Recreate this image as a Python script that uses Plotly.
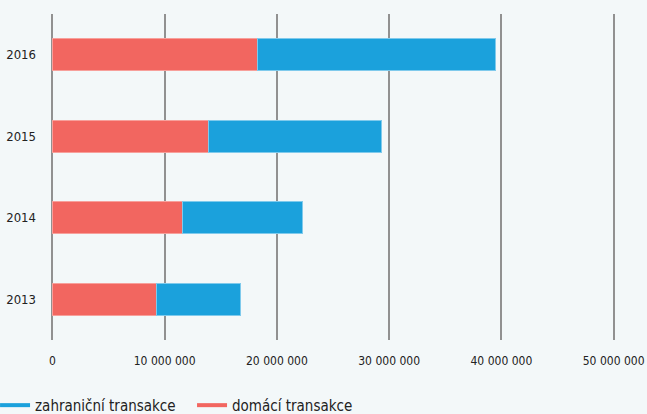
import plotly.graph_objects as go

years = ["2013", "2014", "2015", "2016"]
domestic = [9.3e6, 11.6e6, 13.9e6, 18.3e6]
foreign = [7.5e6, 10.7e6, 15.4e6, 21.2e6]
tick_vals = [0, 10e6, 20e6, 30e6, 40e6, 50e6]
tick_text = ["0", "10 000 000", "20 000 000", "30 000 000", "40 000 000", "50 000 000"]

RED = "#f26660"
BLUE = "#1ba1dc"
FONT = "DejaVu Sans Condensed, sans-serif"

fig = go.Figure()
fig.add_trace(go.Bar(y=years, x=domestic, orientation="h", name="domácí transakce",
                     marker=dict(color=RED, line=dict(color="#f7a09b", width=1)),
                     width=0.39, showlegend=False))
fig.add_trace(go.Bar(y=years, x=foreign, orientation="h", name="zahraniční transakce",
                     marker=dict(color=BLUE, line=dict(color="#7fcaec", width=1)),
                     width=0.39, showlegend=False))
fig.add_trace(go.Scatter(x=[None], y=[None], mode="lines", name="zahraniční transakce",
                         line=dict(color=BLUE, width=4)))
fig.add_trace(go.Scatter(x=[None], y=[None], mode="lines", name="domácí transakce",
                         line=dict(color=RED, width=4)))

fig.update_layout(
    width=647, height=414,
    barmode="stack",
    paper_bgcolor="#f3f8f9", plot_bgcolor="#f3f8f9",
    margin=dict(l=49, r=30, t=14, b=74, autoexpand=False),
    font=dict(family=FONT, color="#222222", size=13),
    showlegend=True,
    legend=dict(orientation="h", x=-0.095, xanchor="left", y=-0.15, yanchor="top",
                traceorder="normal", font=dict(size=15), itemwidth=30,
                entrywidth=152, bgcolor="rgba(0,0,0,0)"),
    xaxis=dict(range=[-0.3e6, 50.3e6], tickvals=tick_vals, ticktext=tick_text,
               showgrid=True, gridcolor="#919191", gridwidth=2, zeroline=False,
               showline=False, ticks="", tickfont=dict(size=12), ticklabelstandoff=12),
    yaxis=dict(range=[-0.5, 3.5], type="category", showgrid=False, zeroline=False,
               showline=False, ticks="", tickfont=dict(size=13), ticklabelstandoff=12),
)

fig.write_html("out.html", post_script="document.body.style.margin='0';",
               config={"displayModeBar": False})
